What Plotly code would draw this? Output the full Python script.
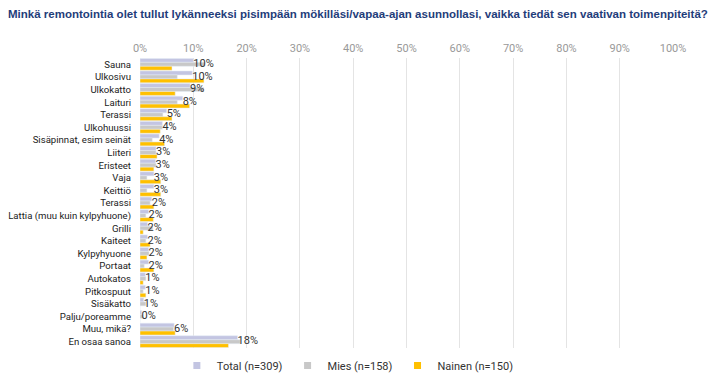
import plotly.graph_objects as go

categories = ["Sauna", "Ulkosivu", "Ulkokatto", "Laituri", "Terassi", "Ulkohuussi",
              "Sisäpinnat, esim seinät", "Liiteri", "Eristeet", "Vaja", "Keittiö", "Terassi ",
              "Lattia (muu kuin kylpyhuone)", "Grilli", "Kaiteet", "Kylpyhyuone", "Portaat",
              "Autokatos", "Pitkospuut", "Sisäkatto", "Palju/poreamme", "Muu, mikä?", "En osaa sanoa"]
total = [10.0, 9.8, 9.4, 8.0, 5.0, 4.2, 3.6, 3.0, 2.9, 2.6, 2.6, 2.2,
         1.6, 1.4, 1.4, 1.6, 1.6, 1.0, 1.0, 0.7, 0.3, 6.4, 18.3]
mies = [12.2, 7.0, 12.0, 7.0, 4.3, 4.2, 2.3, 3.0, 3.0, 1.3, 1.3, 1.9,
        1.1, 2.4, 1.1, 1.7, 0.8, 1.1, 0.6, 1.1, 0.6, 6.3, 18.8]
nainen = [6.0, 12.0, 6.6, 9.3, 6.0, 3.8, 4.6, 3.2, 2.6, 3.9, 3.9, 2.6,
          2.5, 0.6, 1.9, 1.3, 2.6, 0.6, 1.1, 0.0, 0.0, 6.6, 16.6]
total_labels = ["10%", "10%", "9%", "8%", "5%", "4%", "4%", "3%", "3%", "3%", "3%", "2%",
                "2%", "2%", "2%", "2%", "2%", "1%", "1%", "1%", "0%", "6%", "18%"]
series_names = ["Total (n=309)", "Mies (n=158)", "Nainen (n=150)"]
colors = ["#c3c5e2", "#c8c8c8", "#ffc000"]
tick_vals = [0, 10, 20, 30, 40, 50, 60, 70, 80, 90, 100]
tick_text = [f"{v}%" for v in tick_vals]

fig = go.Figure()
fig.add_trace(go.Bar(y=categories, x=total, orientation="h", name=series_names[0],
                     marker_color=colors[0], showlegend=False))
fig.add_trace(go.Bar(y=categories, x=mies, orientation="h", name=series_names[1],
                     marker_color=colors[1], showlegend=False))
fig.add_trace(go.Bar(y=categories, x=nainen, orientation="h", name=series_names[2],
                     marker_color=colors[2], showlegend=False))
# value labels for Total, at the category centre
fig.add_trace(go.Scatter(y=categories, x=total, mode="text", text=total_labels,
                         textposition="middle right", cliponaxis=False, showlegend=False,
                         textfont=dict(size=11, color="#333333", family="Roboto"),
                         hoverinfo="skip"))
# legend entries with small square symbols
for name, col in zip(series_names, colors):
    fig.add_trace(go.Scatter(x=[None], y=[None], mode="markers", name=name,
                             marker=dict(symbol="square", size=7, color=col)))

fig.update_layout(
    width=712, height=369,
    margin=dict(l=132, r=47, t=50, b=29, autoexpand=False),
    paper_bgcolor="white", plot_bgcolor="white",
    barmode="group", bargap=0.06, bargroupgap=0,
    title=dict(text="<b>Minkä remontointia olet tullut lykänneeksi pisimpään mökilläsi/vapaa-ajan asunnollasi, vaikka tiedät sen vaativan toimenpiteitä?</b>",
               x=0.0, xanchor="left", y=0.985, yanchor="middle",
               font=dict(size=11.5, color="#1f3d7a", family="Liberation Sans")),
    font=dict(family="Roboto", size=11, color="#222222"),
    xaxis=dict(side="top", range=[0, 100], tickvals=tick_vals, ticktext=tick_text,
               showgrid=True, gridcolor="#e4e4e4", gridwidth=1, zeroline=False,
               tickfont=dict(size=11, color="#999999"), showline=False, ticks="",
               ticklabelstandoff=3, automargin=False),
    yaxis=dict(range=[len(categories) - 0.5, -0.5], tickfont=dict(size=9.6, color="#222222"),
               tickmode="array", tickvals=categories, ticktext=[c.strip() for c in categories],
               showgrid=False, ticks="", ticklabelstandoff=8, showline=False, automargin=False),
    legend=dict(orientation="h", x=0.39, xanchor="center", y=-0.01, yanchor="top",
                font=dict(size=11, color="#333333"), traceorder="normal",
                itemwidth=30),
    showlegend=True,
)
fig.write_html("out.html")
